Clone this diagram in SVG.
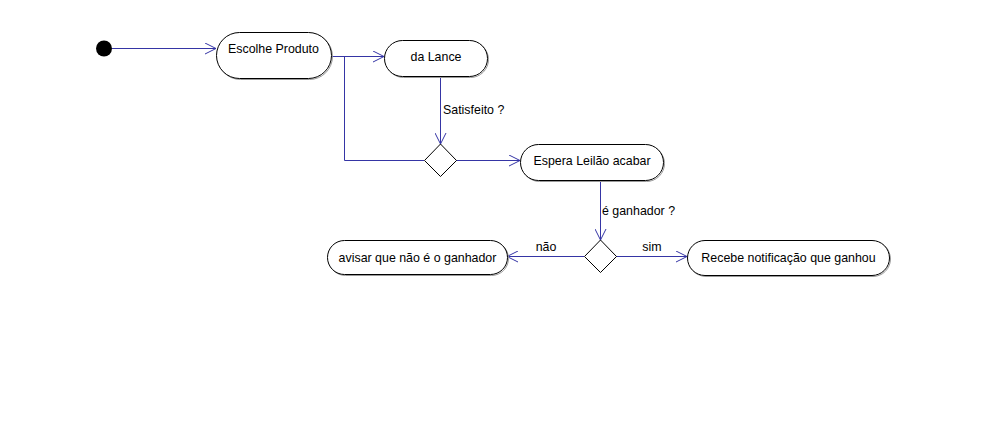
<svg xmlns="http://www.w3.org/2000/svg" width="982" height="442" viewBox="0 0 982 442">
<defs>
<style>
.node{fill:#fff;stroke:#000;stroke-width:1}
.shadow{fill:none;stroke:#9a9a9a;stroke-width:1}
.edge{fill:none;stroke:#3535a5;stroke-width:1}
.t{font-family:"Liberation Sans",Arial,sans-serif;font-size:12.4px;fill:#000}
.c{text-anchor:middle}
</style>
<marker id="arr" viewBox="0 0 12 12" refX="11" refY="6" markerWidth="12" markerHeight="12" markerUnits="userSpaceOnUse" orient="auto">
<path d="M0,0.5 L11,6 L0,11.5" fill="none" stroke="#3535a5" stroke-width="1"/>
</marker>
</defs>
<rect width="982" height="442" fill="#fff"/>
<g id="connectors">
<path class="edge" d="M112,48.5 H216" marker-end="url(#arr)"/>
<path class="edge" d="M331,56.5 H384" marker-end="url(#arr)"/>
<path class="edge" d="M344.5,56.5 V160.5 H424"/>
<path class="edge" d="M440.5,76 V144" marker-end="url(#arr)"/>
<path class="edge" d="M456,160.5 H520" marker-end="url(#arr)"/>
<path class="edge" d="M600.5,180 V240" marker-end="url(#arr)"/>
<path class="edge" d="M584,256.5 H507" marker-end="url(#arr)"/>
<path class="edge" d="M616,256.5 H687" marker-end="url(#arr)"/>
<text class="t" x="443" y="114">Satisfeito ?</text>
<text class="t" x="602" y="215">é ganhador ?</text>
<text class="t c" x="546" y="251">não</text>
<text class="t c" x="652" y="251">sim</text>
</g>
<g id="start">
<circle cx="104" cy="48.5" r="8" fill="#000"/>
</g>
<g id="escolhe">
<rect class="shadow" x="217.5" y="33.5" width="115" height="46" rx="23"/>
<rect class="node" x="216.5" y="32.5" width="115" height="46" rx="23"/>
<text class="t c" x="273.5" y="52.5">Escolhe Produto</text>
</g>
<g id="lance">
<rect class="shadow" x="385.5" y="41.5" width="103" height="36" rx="18"/>
<rect class="node" x="384.5" y="40.5" width="103" height="36" rx="18"/>
<text class="t c" x="436" y="60.5">da Lance</text>
</g>
<g id="decision1">
<polygon class="node" points="440.5,144 456.5,160.5 440.5,176.5 424.5,160.5"/>
</g>
<g id="espera">
<rect class="shadow" x="521.5" y="145.5" width="143" height="36" rx="18"/>
<rect class="node" x="520.5" y="144.5" width="143" height="36" rx="18"/>
<text class="t c" x="592" y="165">Espera Leilão acabar</text>
</g>
<g id="decision2">
<polygon class="node" points="600.5,240 616.5,256.5 600.5,272.5 584.5,256.5"/>
</g>
<g id="avisar">
<rect class="shadow" x="328.5" y="241.5" width="180" height="34" rx="17"/>
<rect class="node" x="327.5" y="240.5" width="180" height="34" rx="17"/>
<text class="t c" x="417.5" y="261.5">avisar que não é o ganhador</text>
</g>
<g id="recebe">
<rect class="shadow" x="688.5" y="241.5" width="202" height="35" rx="17.5"/>
<rect class="node" x="687.5" y="240.5" width="202" height="35" rx="17.5"/>
<text class="t c" x="788.5" y="261.5">Recebe notificação que ganhou</text>
</g>
</svg>
